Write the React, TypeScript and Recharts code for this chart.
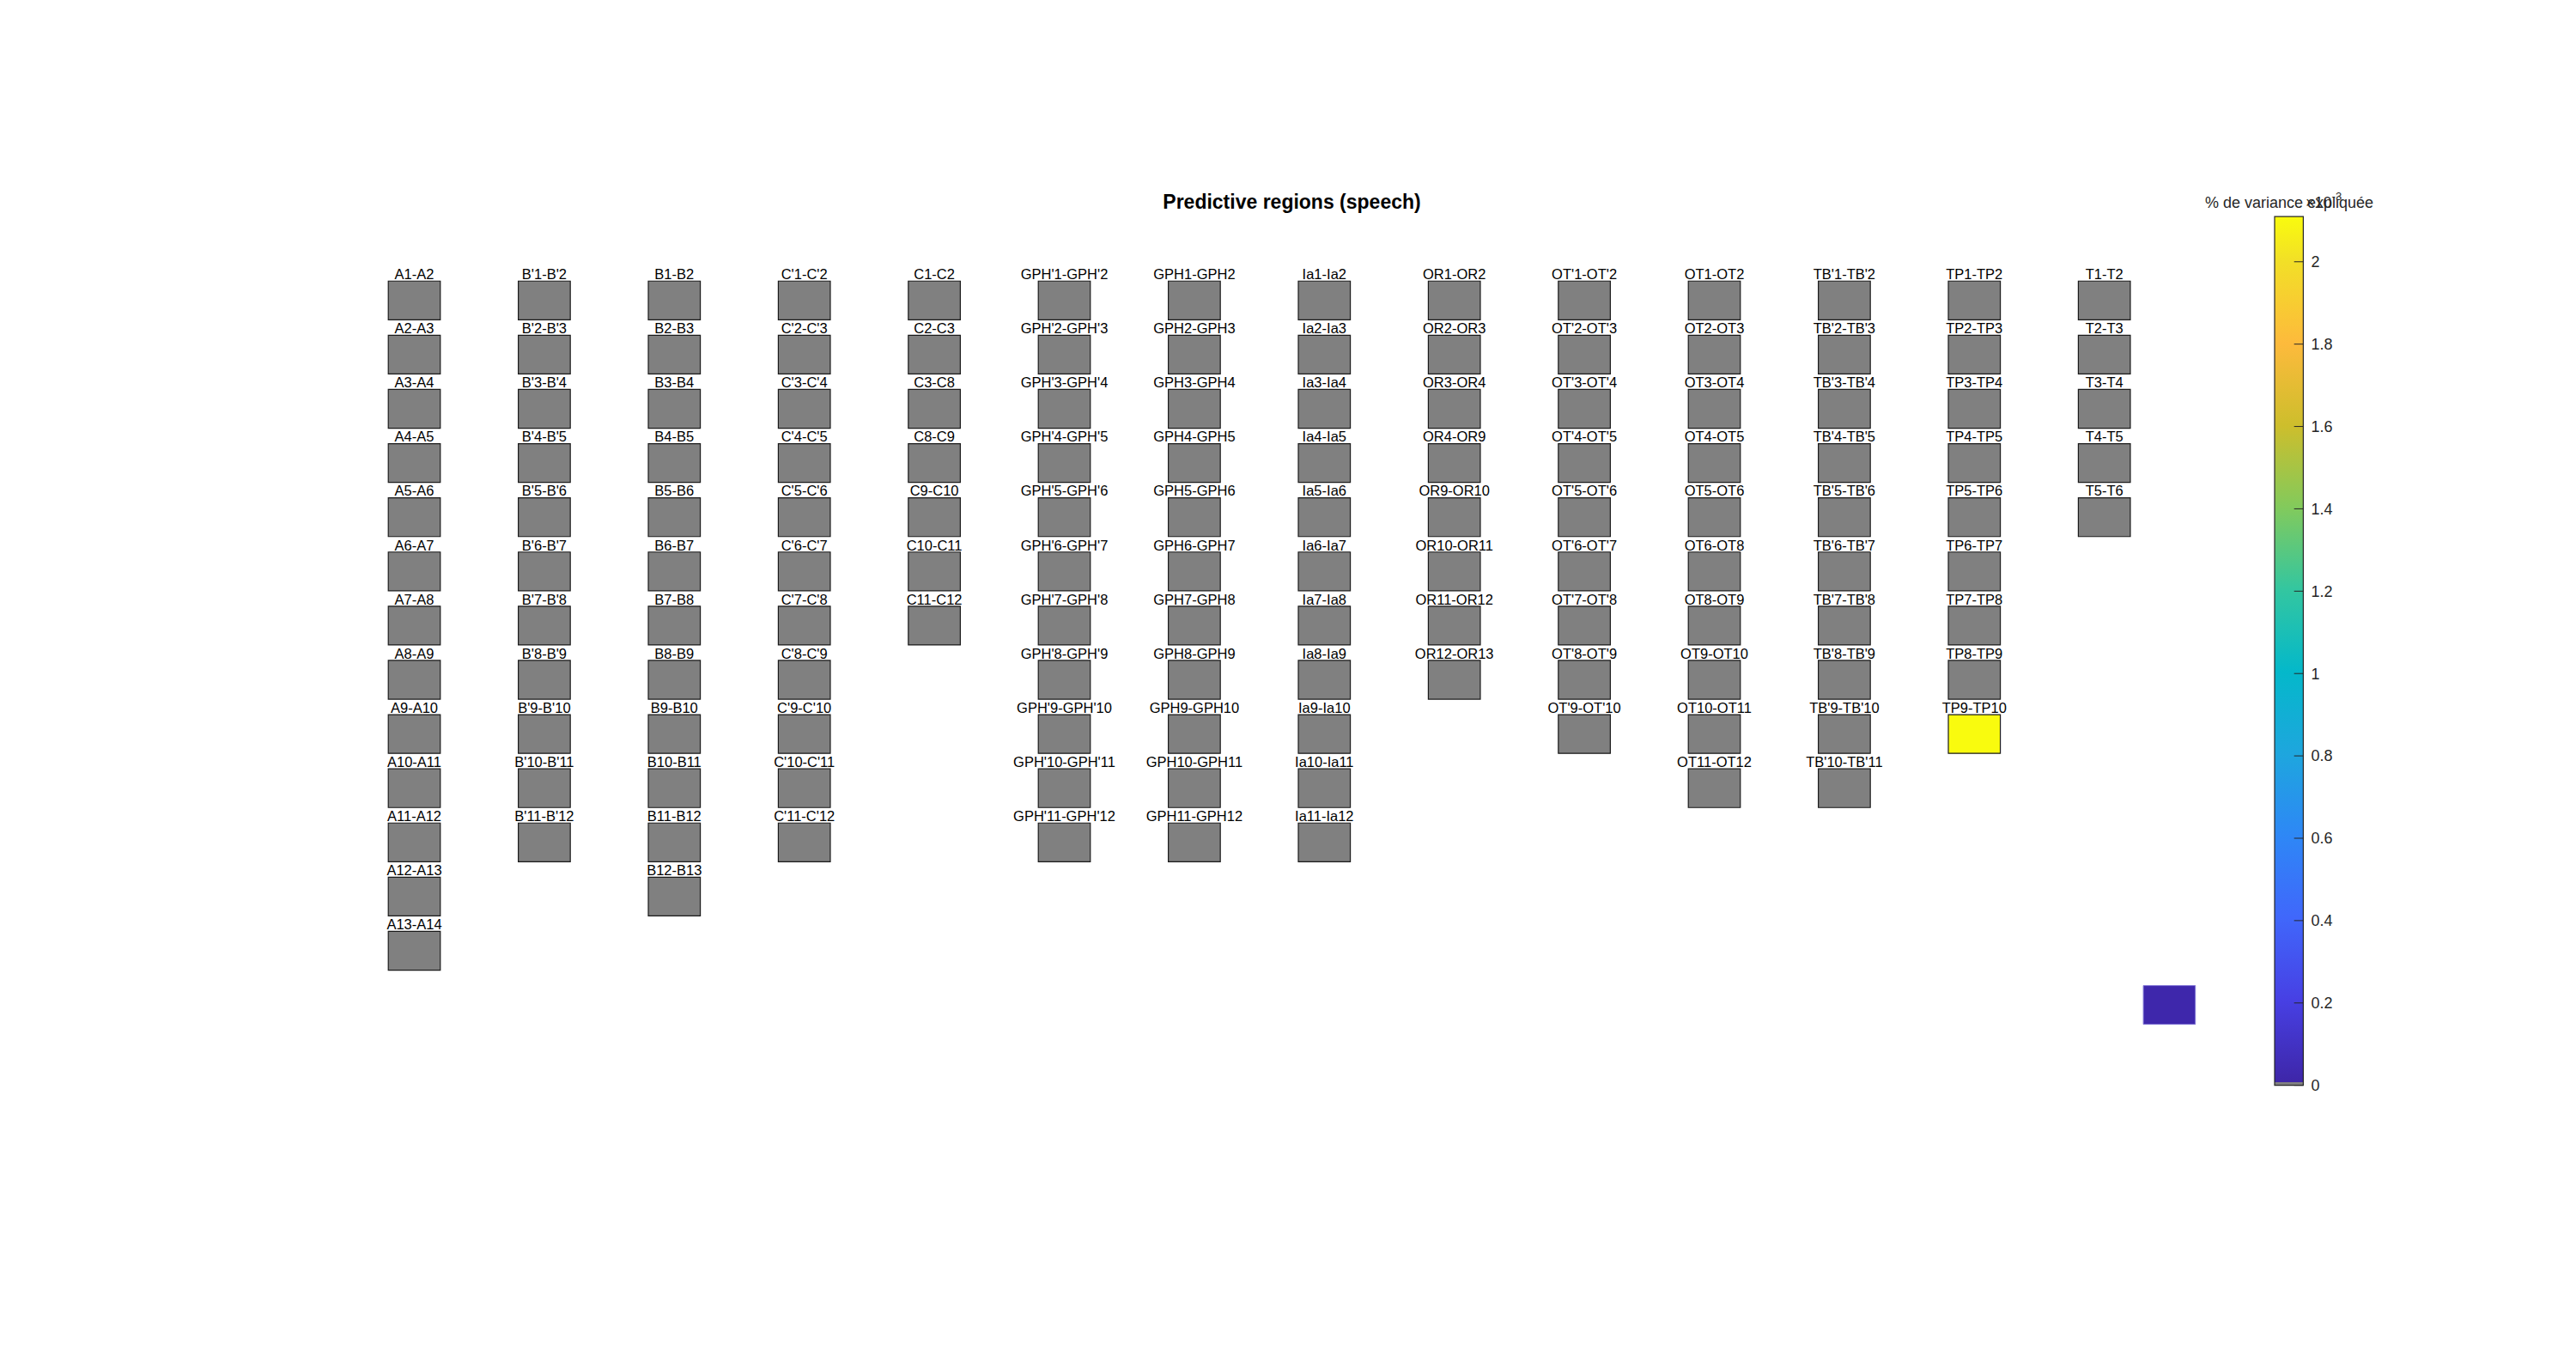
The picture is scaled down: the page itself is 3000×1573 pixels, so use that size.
import React from "react"
import { ScatterChart, Scatter, XAxis, YAxis, ReferenceArea } from "recharts"

const FONT = "'Liberation Sans', Arial, Helvetica, sans-serif"

// bipolar channels, one list per electrode shaft (left to right)
const A_PAIRS = ["A1-A2", "A2-A3", "A3-A4", "A4-A5", "A5-A6", "A6-A7", "A7-A8", "A8-A9", "A9-A10", "A10-A11", "A11-A12", "A12-A13", "A13-A14"]
const BP_PAIRS = ["B'1-B'2", "B'2-B'3", "B'3-B'4", "B'4-B'5", "B'5-B'6", "B'6-B'7", "B'7-B'8", "B'8-B'9", "B'9-B'10", "B'10-B'11", "B'11-B'12"]
const B_PAIRS = ["B1-B2", "B2-B3", "B3-B4", "B4-B5", "B5-B6", "B6-B7", "B7-B8", "B8-B9", "B9-B10", "B10-B11", "B11-B12", "B12-B13"]
const CP_PAIRS = ["C'1-C'2", "C'2-C'3", "C'3-C'4", "C'4-C'5", "C'5-C'6", "C'6-C'7", "C'7-C'8", "C'8-C'9", "C'9-C'10", "C'10-C'11", "C'11-C'12"]
const C_PAIRS = ["C1-C2", "C2-C3", "C3-C8", "C8-C9", "C9-C10", "C10-C11", "C11-C12"]
const GPHP_PAIRS = ["GPH'1-GPH'2", "GPH'2-GPH'3", "GPH'3-GPH'4", "GPH'4-GPH'5", "GPH'5-GPH'6", "GPH'6-GPH'7", "GPH'7-GPH'8", "GPH'8-GPH'9", "GPH'9-GPH'10", "GPH'10-GPH'11", "GPH'11-GPH'12"]
const GPH_PAIRS = ["GPH1-GPH2", "GPH2-GPH3", "GPH3-GPH4", "GPH4-GPH5", "GPH5-GPH6", "GPH6-GPH7", "GPH7-GPH8", "GPH8-GPH9", "GPH9-GPH10", "GPH10-GPH11", "GPH11-GPH12"]
const IA_PAIRS = ["Ia1-Ia2", "Ia2-Ia3", "Ia3-Ia4", "Ia4-Ia5", "Ia5-Ia6", "Ia6-Ia7", "Ia7-Ia8", "Ia8-Ia9", "Ia9-Ia10", "Ia10-Ia11", "Ia11-Ia12"]
const OR_PAIRS = ["OR1-OR2", "OR2-OR3", "OR3-OR4", "OR4-OR9", "OR9-OR10", "OR10-OR11", "OR11-OR12", "OR12-OR13"]
const OTP_PAIRS = ["OT'1-OT'2", "OT'2-OT'3", "OT'3-OT'4", "OT'4-OT'5", "OT'5-OT'6", "OT'6-OT'7", "OT'7-OT'8", "OT'8-OT'9", "OT'9-OT'10"]
const OT_PAIRS = ["OT1-OT2", "OT2-OT3", "OT3-OT4", "OT4-OT5", "OT5-OT6", "OT6-OT8", "OT8-OT9", "OT9-OT10", "OT10-OT11", "OT11-OT12"]
const TBP_PAIRS = ["TB'1-TB'2", "TB'2-TB'3", "TB'3-TB'4", "TB'4-TB'5", "TB'5-TB'6", "TB'6-TB'7", "TB'7-TB'8", "TB'8-TB'9", "TB'9-TB'10", "TB'10-TB'11"]
const TP_PAIRS = ["TP1-TP2", "TP2-TP3", "TP3-TP4", "TP4-TP5", "TP5-TP6", "TP6-TP7", "TP7-TP8", "TP8-TP9", "TP9-TP10"]
const T_PAIRS = ["T1-T2", "T2-T3", "T3-T4", "T4-T5", "T5-T6"]

const SHAFTS = [A_PAIRS, BP_PAIRS, B_PAIRS, CP_PAIRS, C_PAIRS, GPHP_PAIRS, GPH_PAIRS, IA_PAIRS, OR_PAIRS, OTP_PAIRS, OT_PAIRS, TBP_PAIRS, TP_PAIRS, T_PAIRS]

// explained variance (x10^-3 %), every other channel is 0
const PREDICTIVE_CHANNELS = ["TP9-TP10"]
const PREDICTIVE_VALUES = [2.11]

// lone patch below the grid
const EXTRA_PATCH = { col: 13.5, row: 13, value: 0.01 }

// colorbar
const CB_MAX = 2.11
const CB_TICKS = [0, 0.2, 0.4, 0.6, 0.8, 1, 1.2, 1.4, 1.6, 1.8, 2]
const CB_GRAY_TOP = 0.0075

const PARULA: [number, string][] = [
  [0, "#3e26a8"],
  [0.095, "#4740e4"],
  [0.19, "#4067fb"],
  [0.284, "#2e87f6"],
  [0.379, "#1ea6de"],
  [0.474, "#04b8ca"],
  [0.569, "#33c6a0"],
  [0.664, "#82ca5c"],
  [0.758, "#cdbe2c"],
  [0.853, "#fdba3c"],
  [0.948, "#f2df27"],
  [1, "#f9fb0e"],
]

const hexToRgb = (h: string) => [1, 3, 5].map((i) => parseInt(h.slice(i, i + 2), 16))

const parulaAt = (t: number) => {
  for (let i = 1; i < PARULA.length; i++) {
    const [t1, c1] = PARULA[i]
    const [t0, c0] = PARULA[i - 1]
    if (t <= t1) {
      const f = (t - t0) / (t1 - t0)
      const a = hexToRgb(c0)
      const b = hexToRgb(c1)
      const rgb = a.map((v, k) => Math.round(v + (b[k] - v) * f))
      return `rgb(${rgb[0]},${rgb[1]},${rgb[2]})`
    }
  }
  return PARULA[PARULA.length - 1][1]
}

const colorFor = (v: number) => (v < CB_GRAY_TOP ? "#808080" : parulaAt(Math.min(1, v / CB_MAX)))

const channels = SHAFTS.flatMap((pairs, col) =>
  pairs.map((name, row) => {
    const idx = PREDICTIVE_CHANNELS.indexOf(name)
    return { name, col, row, value: idx >= 0 ? PREDICTIVE_VALUES[idx] : 0 }
  })
)

const HALF_W = 0.2
const HALF_H = 0.357

const ChannelLabel = (props: any) => {
  const { cx, cy, payload } = props
  return (
    <text x={cx} y={cy - 24.8} textAnchor="middle" fontSize={16.5} fontFamily={FONT} fill="#000">
      {payload.name}
    </text>
  )
}

const CbTick = (props: any) => {
  const { cx, cy } = props
  return <line x1={cx - 10.7} x2={cx} y1={cy} y2={cy} stroke="#262626" strokeWidth={1} />
}

export default function App() {
  const cbTickData = CB_TICKS.map((v) => ({ x: 1, y: v }))

  return (
    <div style={{ position: "absolute", left: 0, top: 0, width: 3000, height: 1573, background: "#fff" }}>
      <div style={{ position: "absolute", left: 0, top: 0 }}>
        <ScatterChart width={3000} height={1573} margin={{ top: 318.25, right: 322.2, bottom: 308.25, left: 406.8 }}>
          <XAxis type="number" dataKey="col" domain={[-0.5, 14.5]} hide />
          <YAxis type="number" dataKey="row" domain={[-0.5, 14.5]} reversed hide />
          {channels.map((ch) => (
            <ReferenceArea
              key={ch.name}
              x1={ch.col - HALF_W}
              x2={ch.col + HALF_W}
              y1={ch.row - HALF_H}
              y2={ch.row + HALF_H}
              fill={colorFor(ch.value)}
              fillOpacity={1}
              stroke="#1a1a1a"
              strokeWidth={1.2}
            />
          ))}
          <ReferenceArea
            x1={EXTRA_PATCH.col - HALF_W}
            x2={EXTRA_PATCH.col + HALF_W}
            y1={EXTRA_PATCH.row - HALF_H}
            y2={EXTRA_PATCH.row + HALF_H}
            fill={colorFor(EXTRA_PATCH.value)}
            fillOpacity={1}
            stroke="#8276d6"
            strokeWidth={1}
          />
          <Scatter data={channels} shape={ChannelLabel} isAnimationActive={false} />
        </ScatterChart>
      </div>

      <div style={{ position: "absolute", left: 2644.3, top: 247.3 }}>
        <ScatterChart width={118.4} height={1036.7} margin={{ top: 5, right: 0, bottom: 20, left: 5 }}>
          <defs>
            <linearGradient id="parulaGrad" x1="0" y1="1" x2="0" y2="0">
              {PARULA.map(([t, c]) => (
                <stop key={t} offset={t} stopColor={c} />
              ))}
            </linearGradient>
          </defs>
          <XAxis type="number" dataKey="x" domain={[0, 1]} hide />
          <YAxis
            type="number"
            dataKey="y"
            domain={[0, CB_MAX]}
            orientation="right"
            ticks={CB_TICKS}
            interval={0}
            width={80}
            tickLine={false}
            axisLine={false}
            tickSize={0}
            tickMargin={9}
            tickFormatter={(v: number) => String(v)}
            tick={{ fontSize: 18, fill: "#262626", fontFamily: FONT }}
          />
          <ReferenceArea x1={0} x2={1} y1={0} y2={CB_GRAY_TOP} fill="#808080" fillOpacity={1} />
          <ReferenceArea x1={0} x2={1} y1={CB_GRAY_TOP} y2={CB_MAX} fill="url(#parulaGrad)" fillOpacity={1} />
          <ReferenceArea x1={0} x2={1} y1={0} y2={CB_MAX} fill="none" fillOpacity={0} stroke="#262626" strokeWidth={1.2} />
          <Scatter data={cbTickData} shape={CbTick} isAnimationActive={false} />
        </ScatterChart>
      </div>

      <svg width={3000} height={1573} style={{ position: "absolute", left: 0, top: 0, pointerEvents: "none" }}>
        <text x={1504.5} y={243} textAnchor="middle" fontSize={23} fontWeight="bold" fontFamily={FONT} fill="#000">
          Predictive regions (speech)
        </text>
        <text x={2666} y={241.5} textAnchor="middle" fontSize={18} fontFamily={FONT} fill="#262626">
          % de variance expliquée
        </text>
        <text x={2685} y={241.5} fontSize={18} fontFamily={FONT} fill="#262626">
          ×10
          <tspan fontSize={13} dy={-9}>
            -3
          </tspan>
        </text>
      </svg>
    </div>
  )
}
